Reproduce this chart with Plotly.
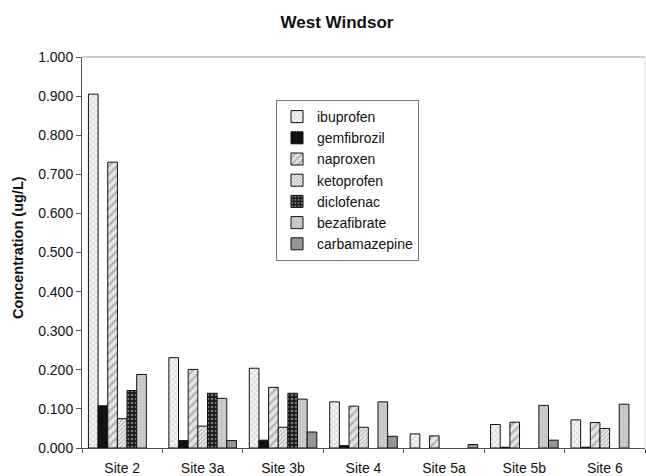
import plotly.graph_objects as go

sites = ["Site 2", "Site 3a", "Site 3b", "Site 4", "Site 5a", "Site 5b", "Site 6"]
ibuprofen = [0.905, 0.231, 0.204, 0.118, 0.036, 0.060, 0.072]
gemfibrozil = [0.108, 0.019, 0.020, 0.006, None, 0.002, 0.002]
naproxen = [0.731, 0.201, 0.155, 0.107, 0.031, 0.066, 0.065]
ketoprofen = [0.075, 0.056, 0.053, 0.053, None, None, 0.050]
diclofenac = [0.147, 0.140, 0.140, None, None, None, None]
bezafibrate = [0.188, 0.127, 0.125, 0.118, None, 0.109, 0.112]
carbamazepine = [None, 0.019, 0.041, 0.030, 0.009, 0.020, None]
yticks = [0.0, 0.1, 0.2, 0.3, 0.4, 0.5, 0.6, 0.7, 0.8, 0.9, 1.0]

FONT = "Arial, Liberation Sans, sans-serif"

series = [
    ("ibuprofen", ibuprofen, dict(shape="x", fgcolor="#8a8a8a", bgcolor="#f4f4f4", size=4, solidity=0.25)),
    ("gemfibrozil", gemfibrozil, dict(shape="", fgcolor="#000000", bgcolor="#111111")),
    ("naproxen", naproxen, dict(shape="/", fgcolor="#808080", bgcolor="#e6e6e6", size=6, solidity=0.4)),
    ("ketoprofen", ketoprofen, dict(shape="/", fgcolor="#6a6a6a", bgcolor="#f2f2f2", size=3, solidity=0.4)),
    ("diclofenac", diclofenac, dict(shape=".", fgcolor="#cfcfcf", bgcolor="#1a1a1a", size=4, solidity=0.35)),
    ("bezafibrate", bezafibrate, dict(shape=".", fgcolor="#b0b0b0", bgcolor="#cdcdcd", size=3, solidity=0.3)),
    ("carbamazepine", carbamazepine, dict(shape="", fgcolor="#909090", bgcolor="#959595")),
]

fig = go.Figure()
for name, vals, pat in series:
    color = pat["bgcolor"]
    p = dict(pat)
    if p["shape"] == "":
        fig.add_trace(go.Bar(name=name, x=sites, y=vals,
                             marker=dict(color=color, line=dict(color="#111111", width=1))))
    else:
        fig.add_trace(go.Bar(name=name, x=sites, y=vals,
                             marker=dict(color=color, pattern=p,
                                         line=dict(color="#111111", width=1))))

fig.update_layout(
    width=646, height=476,
    margin=dict(l=82, r=1, t=57, b=28),
    paper_bgcolor="white", plot_bgcolor="white",
    barmode="group", bargap=0.16, bargroupgap=0,
    font=dict(family=FONT, size=14, color="#111111"),
    title=dict(text="<b>West Windsor</b>", x=337/646, xanchor="center",
               y=1 - 22/476, yanchor="middle", font=dict(size=17, family=FONT)),
    showlegend=True,
    legend=dict(x=(276-82)/563, y=(448-100)/391, xanchor="left", yanchor="top",
                bgcolor="white", bordercolor="#777777", borderwidth=1,
                font=dict(size=14, family=FONT), tracegroupgap=0,
                itemwidth=30),
    xaxis=dict(showline=True, linecolor="#555555", linewidth=1,
               ticks="outside", tickson="boundaries", ticklen=4, tickcolor="#555555",
               showgrid=False, tickfont=dict(size=14), ticklabelstandoff=7),
    yaxis=dict(range=[0, 1.0], tickvals=yticks, tickformat=".3f",
               showline=True, linecolor="#555555", linewidth=1,
               ticks="outside", ticklen=5, tickcolor="#555555",
               showgrid=False, zeroline=False, tickfont=dict(size=14)),
    annotations=[dict(text="<b>Concentration (ug/L)</b>", xref="paper", yref="paper",
                      x=-(82-18)/563, y=(448-248)/391, xanchor="center", yanchor="middle",
                      textangle=-90, showarrow=False, font=dict(size=14.5, family=FONT))],
    shapes=[
        dict(type="line", xref="paper", yref="paper", x0=0, x1=1, y0=1, y1=1,
             line=dict(color="#999999", width=1)),
        dict(type="line", xref="paper", yref="paper", x0=1, x1=1, y0=0, y1=1,
             line=dict(color="#e0e0e0", width=1)),
    ],
)

fig.write_html("out.html")
